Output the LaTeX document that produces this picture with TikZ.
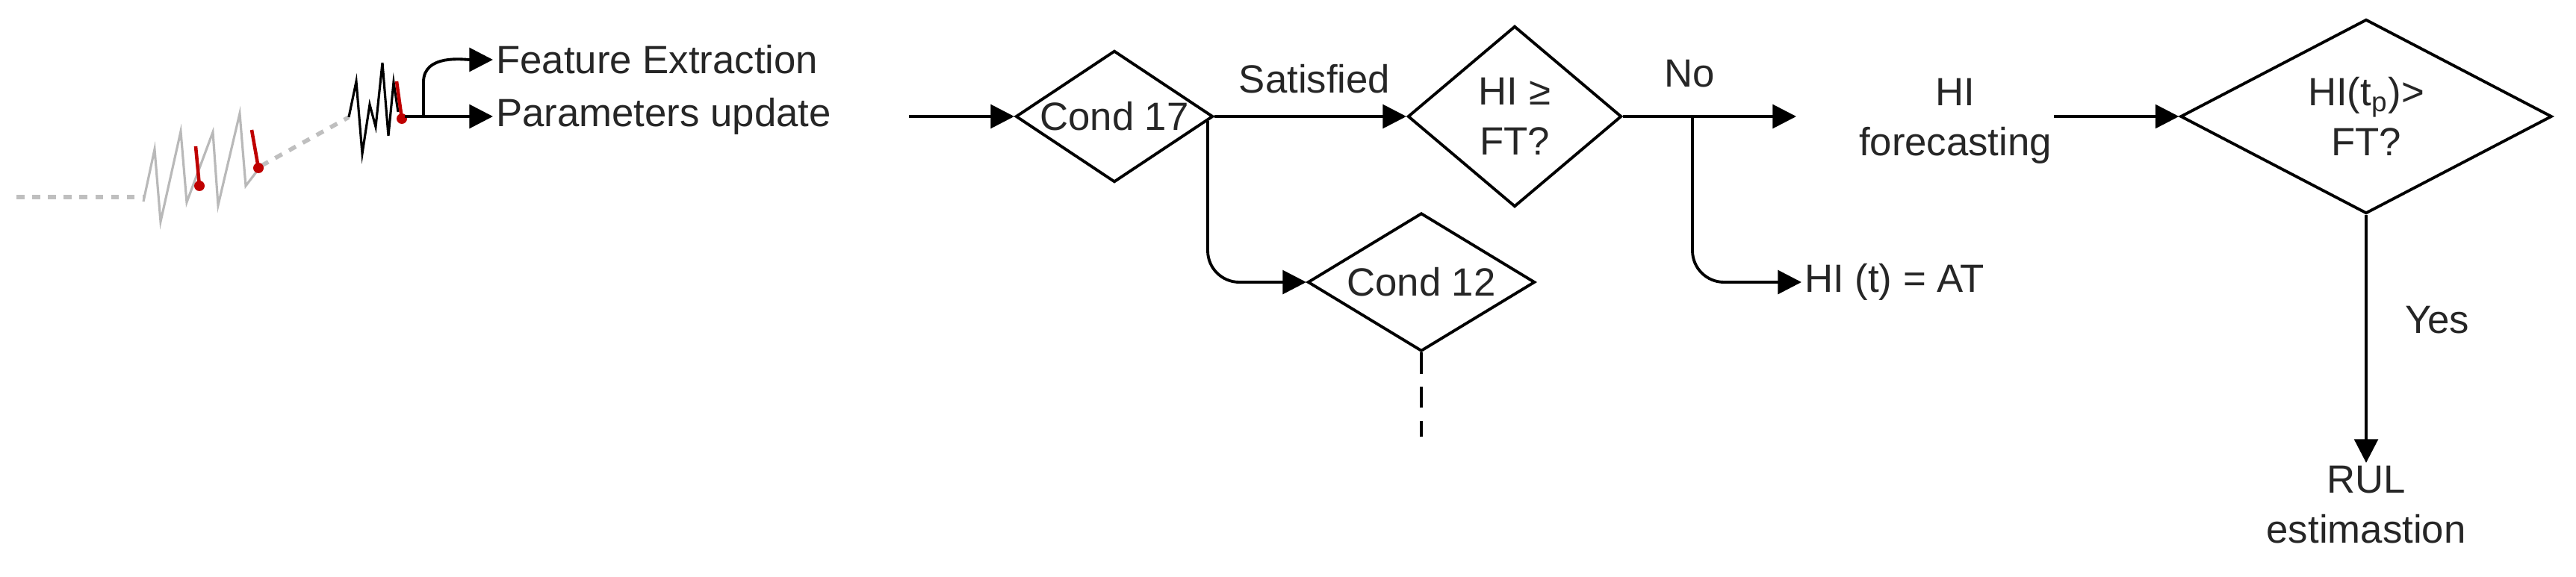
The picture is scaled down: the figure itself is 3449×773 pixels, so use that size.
\documentclass[tikz,border=0pt]{standalone}
\usepackage{fontspec}
\setmainfont{Liberation Sans}
\usetikzlibrary{shapes.geometric,arrows.meta}
\begin{document}
\begin{tikzpicture}[x=0.01cm,y=-0.01cm,
  every node/.style={font=\fontsize{15}{17}\selectfont, text=black!85},
  dec/.style={diamond, draw, line width=1.1pt, inner sep=0pt},
  arr/.style={line width=1.1pt, -{Triangle[length=9pt,width=9pt]}},
  wave/.style={line width=0.9pt},
  lbl/.style={inner sep=1pt}]
\useasboundingbox (0,0) rectangle (3449,773);
% waveforms
\draw[gray!50, line width=1.6pt, dashed] (22,264) -- (194,264);
\draw[gray!55, wave] (192,270) -- (207,200) -- (215,297) -- (242,176) -- (250,271) -- (285,177) -- (292,275) -- (321,152) -- (329,249) -- (345,228);
\draw[gray!50, line width=1.6pt, dashed] (350,222) -- (467,157);
\draw[black, wave] (467,157) -- (477,109) -- (485,206) -- (495,140) -- (503,170) -- (512,84) -- (520,182) -- (527,110) -- (533,150);
\draw[red!75!black, line width=1.3pt] (262,196) -- (267,249);
\fill[red!75!black] (267,249) circle (7);
\draw[red!75!black, line width=1.3pt] (337,174) -- (346,225);
\fill[red!75!black] (346,225) circle (7);
\draw[red!75!black, line width=1.3pt] (531,109) -- (538,159);
\fill[red!75!black] (538,159) circle (7);
\coordinate (ws) at (542,156);
\coordinate (wb) at (567,156);
% texts
\node[anchor=west, lbl] (fe) at (660,80) {Feature Extraction};
\node[anchor=west, lbl] (pu) at (660,156) {Parameters update};
\draw[arr] (ws) -- (pu.west);
\draw[arr] (wb) -- (567,110) to[out=90,in=180] (fe.west);
% diamonds
\node[dec, aspect=1.5, minimum width=2.64cm, minimum height=1.76cm] (c17) at (1492,156) {Cond 17};
\node[dec, aspect=1.18, minimum width=2.86cm, minimum height=2.42cm, align=center] (hi) at (2028,156) {HI ≥\\[2pt] FT?};
\node[dec, aspect=1.64, minimum width=3.04cm, minimum height=1.85cm] (c12) at (1903,378) {Cond 12};
\node[dec, aspect=1.91, minimum width=4.97cm, minimum height=2.6cm, align=center] (hp) at (3168,156) {HI(t\textsubscript{p})>\\[2pt] FT?};
\node[align=center, lbl] (fc) at (2618,162) {HI\\[2pt] forecasting};
\node[anchor=west, lbl] (at) at (2412,378) {HI (t) = AT};
\node[align=center, lbl] (rul) at (3168,676) {RUL\\[2pt] estimastion};
\node[lbl] (sat) at (1760,106) {Satisfied};
\node[lbl] (no) at (2262,99) {No};
\node[lbl] (yes) at (3263,429) {Yes};
\coordinate (in17) at (1217,156);
\coordinate (fcw) at (2405,156);
\coordinate (fce) at (2750,156);
\coordinate (b17) at (1617,162);
\coordinate (bno) at (2266,156);
\coordinate (dend) at (1903,585);
% connectors
\draw[arr] (in17) -- (c17.west);
\draw[arr] (c17.east) -- (hi.west);
\draw[arr] (hi.east) -- (fcw);
\draw[arr, rounded corners=12] (bno) -- (bno |- at.west) -- (at.west);
\draw[arr, rounded corners=12] (b17) -- (b17 |- c12.west) -- (c12.west);
\draw[line width=1.1pt, dash pattern=on 8pt off 5pt] (c12.south) -- (dend);
\draw[arr] (fce) -- (hp.west);
\draw[arr] (hp.south) -- (rul.north);
\end{tikzpicture}
\end{document}
